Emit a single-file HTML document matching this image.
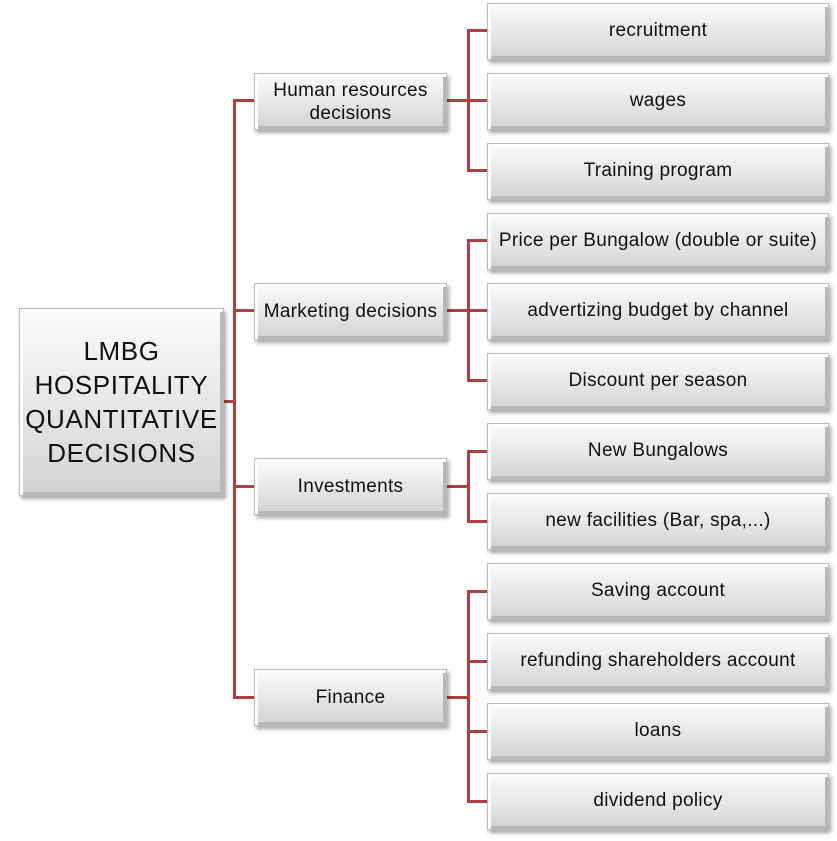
<!DOCTYPE html>
<html><head><style>
body{margin:0;width:837px;height:841px;background:#fff;position:relative;font-family:"Liberation Sans",sans-serif;overflow:hidden}
.b{position:absolute;box-sizing:border-box;display:flex;align-items:center;justify-content:center;text-align:center;color:#111;font-size:19px;letter-spacing:.3px;line-height:23px;white-space:nowrap;
background:linear-gradient(#fbfbfb,#e4e4e4 60%,#d2d2d2);border:1px solid #bbb;
box-shadow:inset 3px 3px 0 #fff,inset -3px -3px 0 #b8b8b8,2px 3px 4px rgba(0,0,0,.35)}
.r{align-items:flex-start;padding-top:15px}
.l{position:absolute;background:#b04040}
</style></head><body>
<div class="l" style="left:224px;top:400px;width:11px;height:3px"></div>
<div class="l" style="left:233px;top:99px;width:3px;height:600px"></div>
<div class="l" style="left:233px;top:99px;width:21px;height:3px"></div>
<div class="l" style="left:233px;top:309px;width:21px;height:3px"></div>
<div class="l" style="left:233px;top:485px;width:21px;height:3px"></div>
<div class="l" style="left:233px;top:696px;width:21px;height:3px"></div>

<div class="l" style="left:447px;top:99px;width:21px;height:3px"></div>
<div class="l" style="left:467px;top:29px;width:3px;height:142px"></div>
<div class="l" style="left:447px;top:309px;width:21px;height:3px"></div>
<div class="l" style="left:467px;top:239px;width:3px;height:143px"></div>
<div class="l" style="left:447px;top:485px;width:21px;height:3px"></div>
<div class="l" style="left:467px;top:450px;width:3px;height:72px"></div>
<div class="l" style="left:447px;top:696px;width:21px;height:3px"></div>
<div class="l" style="left:467px;top:590px;width:3px;height:213px"></div>

<div class="l" style="left:467px;top:29px;width:20px;height:3px"></div>
<div class="l" style="left:467px;top:99px;width:20px;height:3px"></div>
<div class="l" style="left:467px;top:169px;width:20px;height:3px"></div>
<div class="l" style="left:467px;top:239px;width:20px;height:3px"></div>
<div class="l" style="left:467px;top:309px;width:20px;height:3px"></div>
<div class="l" style="left:467px;top:379px;width:20px;height:3px"></div>
<div class="l" style="left:467px;top:450px;width:20px;height:3px"></div>
<div class="l" style="left:467px;top:520px;width:20px;height:3px"></div>
<div class="l" style="left:467px;top:590px;width:20px;height:3px"></div>
<div class="l" style="left:467px;top:660px;width:20px;height:3px"></div>
<div class="l" style="left:467px;top:730px;width:20px;height:3px"></div>
<div class="l" style="left:467px;top:800px;width:20px;height:3px"></div>

<div class="b" style="left:19px;top:308px;width:205px;height:188px;font-size:26px;letter-spacing:.6px;line-height:34px">LMBG<br>HOSPITALITY<br>QUANTITATIVE<br>DECISIONS</div>

<div class="b" style="left:254px;top:73px;width:193px;height:57px">Human resources<br>decisions</div>
<div class="b" style="left:254px;top:283px;width:193px;height:57px">Marketing decisions</div>
<div class="b" style="left:254px;top:458px;width:193px;height:57px">Investments</div>
<div class="b" style="left:254px;top:669px;width:193px;height:57px">Finance</div>

<div class="b r" style="left:487px;top:3px;width:342px;height:57px">recruitment</div>
<div class="b r" style="left:487px;top:73px;width:342px;height:57px">wages</div>
<div class="b r" style="left:487px;top:143px;width:342px;height:57px">Training program</div>
<div class="b r" style="left:487px;top:213px;width:342px;height:57px">Price per Bungalow (double or suite)</div>
<div class="b r" style="left:487px;top:283px;width:342px;height:57px">advertizing budget by channel</div>
<div class="b r" style="left:487px;top:353px;width:342px;height:57px">Discount per season</div>
<div class="b r" style="left:487px;top:423px;width:342px;height:57px">New Bungalows</div>
<div class="b r" style="left:487px;top:493px;width:342px;height:57px">new facilities (Bar, spa,...)</div>
<div class="b r" style="left:487px;top:563px;width:342px;height:57px">Saving account</div>
<div class="b r" style="left:487px;top:633px;width:342px;height:57px">refunding shareholders account</div>
<div class="b r" style="left:487px;top:703px;width:342px;height:57px">loans</div>
<div class="b r" style="left:487px;top:773px;width:342px;height:57px">dividend policy</div>
</body></html>
